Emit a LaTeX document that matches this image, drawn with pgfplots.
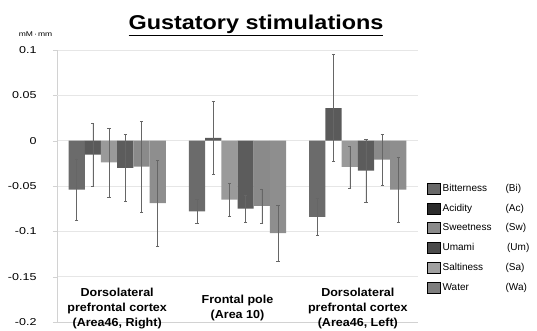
\documentclass[border=0pt]{standalone}
\usepackage{pgfplots}
\pgfplotsset{compat=1.18}
\usepackage{fontspec}
\setmainfont{Liberation Sans}
\newfontfamily\tickfont{Liberation Sans}[FakeStretch=1.25]
\newfontfamily\titlefont{Liberation Sans}[FakeStretch=1.17]
\newfontfamily\catfont{Liberation Sans}[FakeStretch=1.08]
\definecolor{cBi}{HTML}{6B6B6B}
\definecolor{cAc}{HTML}{5A5A5A}
\definecolor{cSw}{HTML}{9A9A9A}
\definecolor{cUm}{HTML}{5C5C5C}
\definecolor{cSa}{HTML}{8A8A8A}
\definecolor{cWa}{HTML}{8E8E8E}
\definecolor{lBi}{HTML}{686868}
\definecolor{lAc}{HTML}{2C2C2C}
\definecolor{lSw}{HTML}{8A8A8A}
\definecolor{lUm}{HTML}{4B4B4B}
\definecolor{lSa}{HTML}{A0A0A0}
\definecolor{lWa}{HTML}{7E7E7E}
\definecolor{gridc}{HTML}{E6E6E6}
\begin{document}
\begin{tikzpicture}
\useasboundingbox (-57pt,-8pt) rectangle (480pt,322pt);
\begin{axis}[
  scale only axis, width=361pt, height=272pt, at={(0,0)}, anchor=south west,
  xmin=-0.5, xmax=2.5, ymin=-0.2, ymax=0.1,
  clip=false,
  ybar, bar width=16.2pt,
  xtick=\empty,
  ytick={-0.2,-0.15,-0.1,-0.05,0,0.05,0.1},
  yticklabels={-0.2,-0.15,-0.1,-0.05,0,0.05,0.1},
  yticklabel style={font=\tickfont\fontsize{10}{12}\selectfont, xshift=-13pt},
  ymajorgrids, major grid style={gridc, line width=0.7pt},
  extra y ticks={0.05}, extra y tick labels={},
  extra y tick style={grid style={gray!55, line width=0.6pt}},
  axis x line=bottom, axis y line=left,
  axis line style={-, gray!35, line width=0.6pt},
  tick style={gray!35}, tick align=outside, major tick length=4pt,
  legend style={at={(1.025,0.515)}, anchor=north west, draw=none,
    font=\fontsize{10}{12}\selectfont, row sep=7pt, inner sep=0pt},
  legend cell align=left,
  legend image code/.code={\fill[#1] (0pt,-5.5pt) rectangle (13pt,5.5pt);},
  error bars/error bar style={gray!80!black, line width=0.4pt},
  error bars/error mark options={rotate=90, mark size=1.6pt, gray!80!black, line width=0.4pt},
]
\addlegendimage{fill=lBi}\addlegendentry{\makebox[63pt][l]{Bitterness}(Bi)}
\addlegendimage{fill=lAc}\addlegendentry{\makebox[63pt][l]{Acidity}(Ac)}
\addlegendimage{fill=lSw}\addlegendentry{\makebox[63pt][l]{Sweetness}(Sw)}
\addlegendimage{fill=lUm}\addlegendentry{\makebox[63pt][l]{Umami}\hspace{1.5pt}(Um)}
\addlegendimage{fill=lSa}\addlegendentry{\makebox[63pt][l]{Saltiness}(Sa)}
\addlegendimage{fill=lWa}\addlegendentry{\makebox[63pt][l]{Water}(Wa)}

\addplot[forget plot, bar shift=-40.5pt, fill=cBi, draw=none, error bars/.cd, y dir=both, y explicit]
  coordinates {(0,-0.054) +- (0,0.034) (1,-0.078) +- (0,0.013) (2,-0.084) +- (0,0.020)};
\addplot[forget plot, bar shift=-24.3pt, fill=cAc, draw=none, error bars/.cd, y dir=both, y explicit]
  coordinates {(0,-0.0155) +- (0,0.035) (1,0.003) +- (0,0.040) (2,0.036) +- (0,0.059)};
\addplot[forget plot, bar shift=-8.1pt, fill=cSw, draw=none, error bars/.cd, y dir=both, y explicit]
  coordinates {(0,-0.024) +- (0,0.038) (1,-0.065) +- (0,0.018) (2,-0.029) +- (0,0.023)};
\addplot[forget plot, bar shift=8.1pt, fill=cUm, draw=none, error bars/.cd, y dir=both, y explicit]
  coordinates {(0,-0.030) +- (0,0.037) (1,-0.075) +- (0,0.015) (2,-0.033) +- (0,0.035)};
\addplot[forget plot, bar shift=24.3pt, fill=cSa, draw=none, error bars/.cd, y dir=both, y explicit]
  coordinates {(0,-0.0285) +- (0,0.050) (1,-0.072) +- (0,0.019) (2,-0.021) +- (0,0.028)};
\addplot[forget plot, bar shift=40.5pt, fill=cWa, draw=none, error bars/.cd, y dir=both, y explicit]
  coordinates {(0,-0.069) +- (0,0.047) (1,-0.102) +- (0,0.031) (2,-0.054) +- (0,0.036)};

\node[align=center, font=\catfont\bfseries\fontsize{11.6}{15}\selectfont] at (axis cs:0,-0.1855) {Dorsolateral\\prefrontal cortex\\(Area46, Right)};
\node[align=center, font=\catfont\bfseries\fontsize{11.6}{15}\selectfont] at (axis cs:1,-0.1845) {Frontal pole\\(Area 10)};
\node[align=center, font=\catfont\bfseries\fontsize{11.6}{15}\selectfont] at (axis cs:2,-0.1855) {Dorsolateral\\prefrontal cortex\\(Area46, Left)};
\end{axis}
\node[font=\titlefont\bfseries\fontsize{20}{24}\selectfont, anchor=base] at (199pt,292pt) {\underline{Gustatory stimulations}};
\node[font=\tickfont\fontsize{6.8}{8}\selectfont] at (-21.5pt,288pt) {mM\,·\,mm};
\end{tikzpicture}
\end{document}
